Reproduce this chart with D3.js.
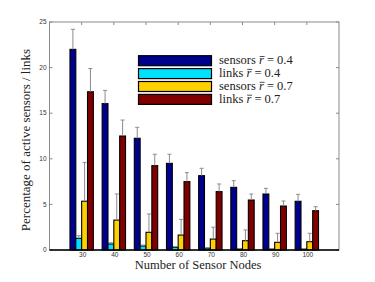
<!DOCTYPE html>
<html><head><meta charset="utf-8">
<script src="https://cdn.jsdelivr.net/npm/d3@7/dist/d3.min.js"></script>
<style>body{margin:0;background:#fff}svg{display:block}.srf{font-family:'Liberation Serif','Times New Roman',serif}</style>
</head><body><svg id="c" width="375" height="282"></svg>
<script>
const nodes = [30, 40, 50, 60, 70, 80, 90, 100];
const legendLabels = [["sensors ", "0.4"], ["links ", "0.4"], ["sensors ", "0.7"], ["links ", "0.7"]];
const colors = ["#00008f", "#00e0ff", "#ffd000", "#800000"];
const sensors04 = [22.0, 16.05, 12.25, 9.5, 8.15, 6.87, 6.14, 5.34];
const sensors04Err = [24.2, 17.5, 13.45, 10.5, 8.96, 7.6, 6.76, 6.1];
const links04 = [1.28, 0.66, 0.44, 0.3, 0.2, 0.12, 0.1, 0.1];
const links04Err = [1.57, 0.8, 0.55, 0.38, 0.26, 0.17, 0.14, 0.13];
const sensors07 = [5.35, 3.28, 1.94, 1.64, 1.2, 1.02, 0.84, 0.91];
const sensors07Err = [9.6, 6.14, 3.95, 3.36, 2.5, 2.2, 1.83, 1.83];
const links07 = [17.35, 12.5, 9.25, 7.5, 6.4, 5.48, 4.82, 4.31];
const links07Err = [19.9, 14.25, 10.5, 8.48, 7.24, 6.14, 5.37, 4.75];
const yTicks = [0, 5, 10, 15, 20, 25];

const values = [sensors04, links04, sensors07, links07];
const errs = [sensors04Err, links04Err, sensors07Err, links07Err];

const svg = d3.select("#c");
const L = 49.5, R = 339, T = 22, B = 250;
const x = d3.scaleLinear().domain([20, 110]).range([L, R]);
const y = d3.scaleLinear().domain([0, 25]).range([B, T]);
const spacing = x(40) - x(30);
const bw = spacing * 0.727 / 4;

const frame = svg.append("g");
frame.append("rect").attr("x", L).attr("y", T).attr("width", R - L).attr("height", B - T)
  .attr("fill", "none").attr("stroke", "#8a8a8a").attr("stroke-width", 1);

const tl = 3;
nodes.forEach(v => {
  frame.append("line").attr("x1", x(v)).attr("x2", x(v)).attr("y1", T).attr("y2", T + tl).attr("stroke", "#8a8a8a");
  frame.append("line").attr("x1", x(v)).attr("x2", x(v)).attr("y1", B).attr("y2", B - tl).attr("stroke", "#8a8a8a");
});
yTicks.forEach(v => {
  frame.append("line").attr("x1", L).attr("x2", L + tl).attr("y1", y(v)).attr("y2", y(v)).attr("stroke", "#8a8a8a");
  frame.append("line").attr("x1", R).attr("x2", R - tl).attr("y1", y(v)).attr("y2", y(v)).attr("stroke", "#8a8a8a");
});

values.forEach((vals, s) => {
  const g = svg.append("g");
  g.selectAll("rect").data(nodes).join("rect")
    .attr("x", (d) => x(d) + (s - 2) * bw)
    .attr("y", (d, i) => y(vals[i]))
    .attr("width", bw)
    .attr("height", (d, i) => y(0) - y(vals[i]))
    .attr("fill", colors[s]).attr("stroke", "#000").attr("stroke-width", 1.1);
});
values.forEach((vals, s) => {
  const g = svg.append("g").attr("stroke", "#8c8c8c").attr("stroke-width", 1);
  nodes.forEach((d, i) => {
    const cx = x(d) + (s - 1.5) * bw;
    g.append("line").attr("x1", cx).attr("x2", cx).attr("y1", y(vals[i])).attr("y2", y(errs[s][i]));
    g.append("line").attr("x1", cx - 2).attr("x2", cx + 2).attr("y1", y(errs[s][i])).attr("y2", y(errs[s][i]));
  });
});

svg.append("line").attr("x1", L).attr("x2", R).attr("y1", B).attr("y2", B).attr("stroke", "#000").attr("stroke-width", 1.3);

const sans = "'Liberation Sans', Arial, sans-serif";
svg.append("g").selectAll("text").data(yTicks).join("text")
  .attr("x", L - 3).attr("y", d => y(d) + 2.2).attr("text-anchor", "end")
  .attr("font-family", sans).attr("font-size", 6.5).attr("fill", "#333")
  .text(d => d);
svg.append("g").selectAll("text").data(nodes).join("text")
  .attr("x", d => x(d) + 1).attr("y", B + 6.8).attr("text-anchor", "middle")
  .attr("font-family", sans).attr("font-size", 6.5).attr("fill", "#333")
  .text(d => d);

svg.append("text").attr("class", "srf").attr("x", 198).attr("y", 269).attr("text-anchor", "middle")
  .attr("font-size", 12.5).attr("fill", "#222").text("Number of Sensor Nodes");
svg.append("text").attr("class", "srf").attr("transform", "translate(30,140) rotate(-90)").attr("text-anchor", "middle")
  .attr("font-size", 13).attr("fill", "#222").text("Percentage of active sensors / links");

const lg = svg.append("g");
legendLabels.forEach((lab, i) => {
  const yy = 55.7 + i * 12.9;
  lg.append("rect").attr("x", 138.5).attr("y", yy).attr("width", 73).attr("height", 10)
    .attr("fill", colors[i]).attr("stroke", "#000").attr("stroke-width", 1.2);
  const t = lg.append("text").attr("class", "srf").attr("x", 219).attr("y", yy + 8.5)
    .attr("font-size", 12.5).attr("fill", "#222");
  t.append("tspan").attr("class", "srf").text(lab[0]);
  t.append("tspan").attr("class", "srf").attr("font-style", "italic").text("r");
  t.append("tspan").attr("class", "srf").text(" = " + lab[1]);
  const node = t.node();
  const n0 = lab[0].length;
  const sx = node.getStartPositionOfChar(n0).x;
  const ex = node.getEndPositionOfChar(n0).x;
  lg.append("line").attr("x1", sx + 0.8).attr("x2", ex + 0.8).attr("y1", yy + 0.8).attr("y2", yy + 0.8)
    .attr("stroke", "#222").attr("stroke-width", 0.8);
});
</script></body></html>
